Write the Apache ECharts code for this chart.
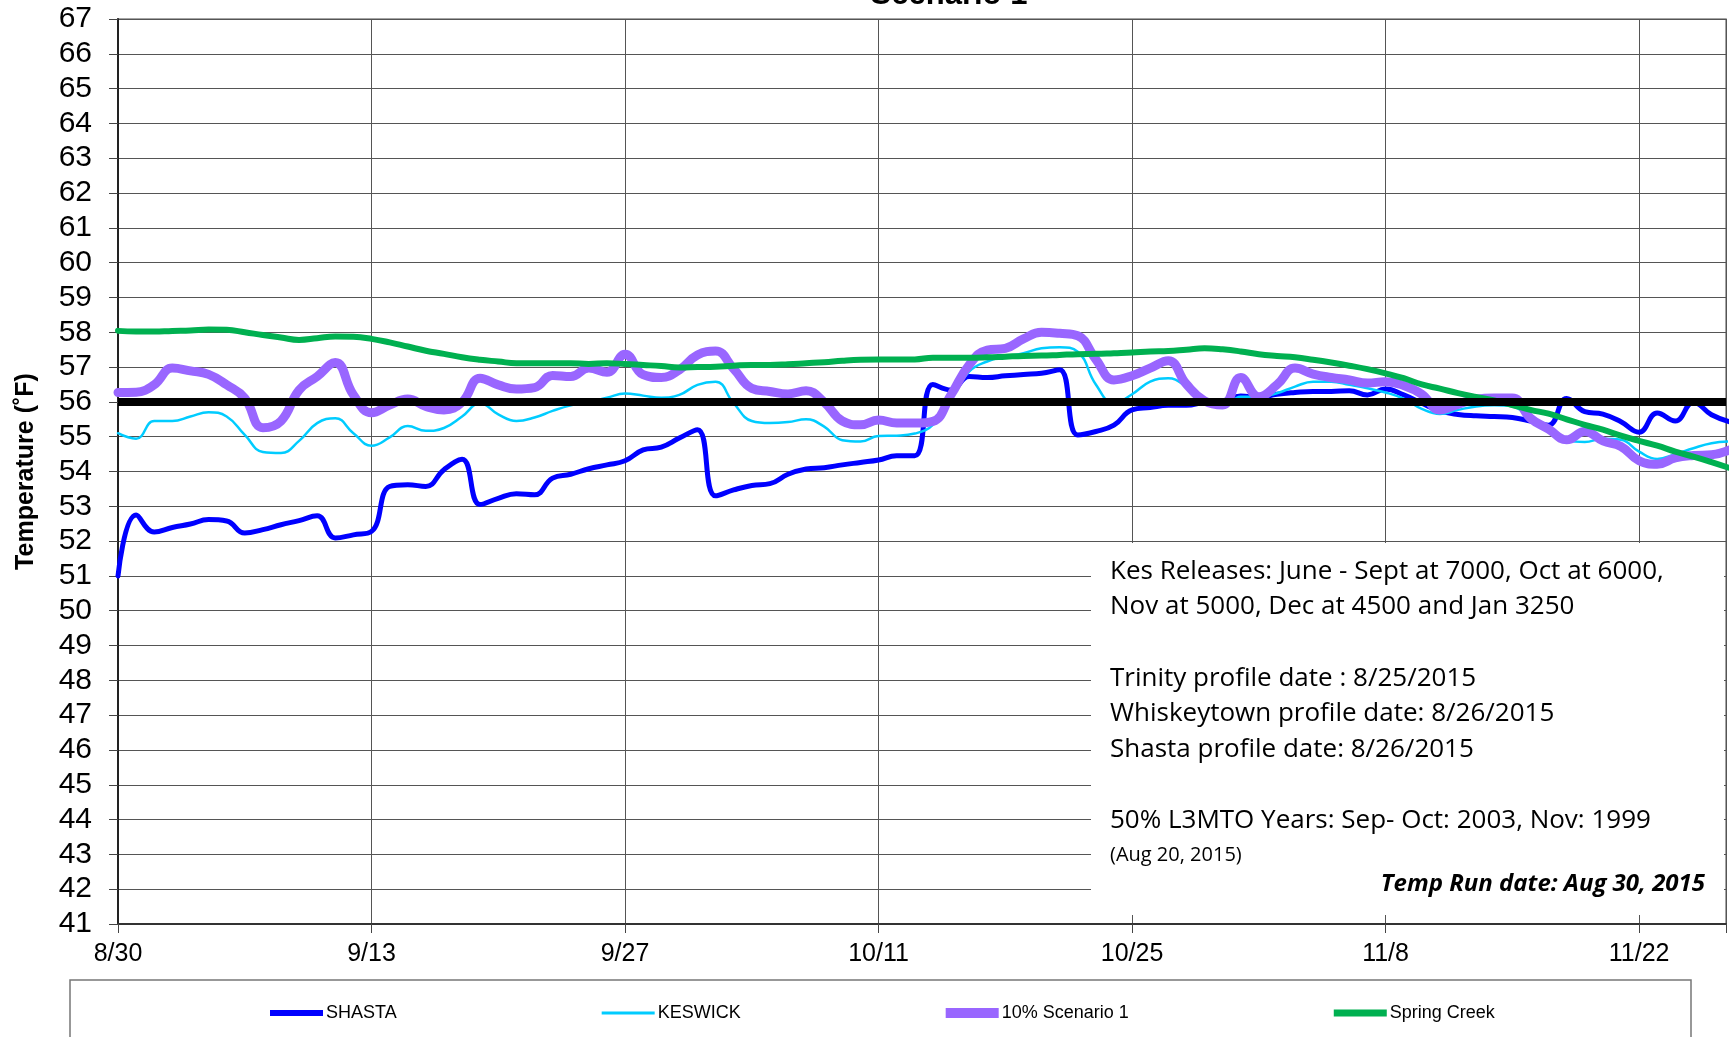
<!DOCTYPE html>
<html>
<head>
<meta charset="utf-8">
<script src="https://cdn.jsdelivr.net/npm/echarts@6/dist/echarts.min.js"></script>
<style>
  html, body { margin: 0; padding: 0; background: #fff; }
  #chart { width: 1729px; height: 1037px; }
</style>
</head>
<body>
<div id="chart"></div>
<script>
// daily temperatures (F), starting 8/30/2015
const xTickLabels = ['8/30', '9/13', '9/27', '10/11', '10/25', '11/8', '11/22'];

const shasta = [
  51.0, 52.75, 52.26, 52.39, 52.49, 52.62, 52.58, 52.23, 52.33, 52.47,
  52.59, 52.73, 52.09, 52.18, 52.28, 53.57, 53.62, 53.57, 54.05, 54.35,
  53.05, 53.23, 53.36, 53.33, 53.81, 53.92, 54.08, 54.19, 54.31, 54.62,
  54.70, 54.96, 55.2, 53.3, 53.47, 53.6, 53.65, 53.92, 54.07, 54.11,
  54.19, 54.26, 54.33, 54.45, 54.45, 56.5, 56.34, 56.73, 56.70, 56.75,
  56.79, 56.82, 56.92, 55.05, 55.15, 55.33, 55.77, 55.84, 55.9, 55.9,
  55.99, 56.03, 56.17, 56.13, 56.22, 56.27, 56.3, 56.3, 56.32, 56.2,
  56.37, 56.2, 55.96, 55.74, 55.64, 55.6, 55.58, 55.55, 55.45, 55.33,
  56.1, 55.72, 55.65, 55.43, 55.13, 55.68, 55.45, 55.99, 55.63, 55.43
];

const keswick = [
  55.1, 54.94, 55.45, 55.45, 55.58, 55.7, 55.58, 55.05, 54.56, 54.53,
  54.88, 55.39, 55.53, 55.1, 54.74, 54.98, 55.31, 55.17, 55.25, 55.58,
  55.96, 55.64, 55.45, 55.55, 55.74, 55.9, 56.0, 56.12, 56.24, 56.18,
  56.12, 56.2, 56.49, 56.58, 55.96, 55.45, 55.39, 55.42, 55.5, 55.29,
  54.9, 54.86, 55.02, 55.03, 55.09, 55.34, 56.1, 56.87, 57.16, 57.3,
  57.4, 57.54, 57.57, 57.44, 56.5, 55.96, 56.22, 56.58, 56.68, 56.44,
  56.06, 55.84, 56.15, 56.15, 56.25, 56.44, 56.58, 56.58, 56.49, 56.39,
  56.27, 56.09, 55.8, 55.65, 55.77, 55.87, 55.9, 55.87, 55.53, 55.2,
  54.88, 54.85, 54.94, 54.91, 54.57, 54.36, 54.5, 54.67, 54.81, 54.86
];

const scenario10 = [
  56.27, 56.28, 56.49, 56.97, 56.89, 56.79, 56.49, 56.11, 55.26, 55.45,
  56.34, 56.73, 57.13, 56.2, 55.69, 55.91, 56.08, 55.87, 55.77, 55.99,
  56.68, 56.49, 56.37, 56.41, 56.76, 56.73, 56.97, 56.85, 57.37, 56.78,
  56.7, 56.92, 57.35, 57.46, 56.95, 56.39, 56.3, 56.23, 56.32, 55.99,
  55.45, 55.34, 55.48, 55.39, 55.39, 55.44, 56.2, 57.06, 57.49, 57.54,
  57.81, 58.0, 57.97, 57.9, 57.22, 56.63, 56.75, 56.97, 57.18, 56.51,
  56.03, 55.91, 56.7, 56.15, 56.49, 56.97, 56.8, 56.7, 56.63, 56.54,
  56.58, 56.47, 56.22, 55.77, 55.93, 56.08, 56.11, 56.11, 55.53, 55.22,
  54.91, 55.15, 54.88, 54.72, 54.31, 54.21, 54.39, 54.46, 54.48, 54.62
];

const springCreek = [
  58.04, 58.02, 58.02, 58.04, 58.05, 58.08, 58.07, 58.0, 57.92, 57.85,
  57.78, 57.83, 57.88, 57.87, 57.81, 57.71, 57.59, 57.47, 57.38, 57.28,
  57.21, 57.16, 57.11, 57.11, 57.11, 57.11, 57.09, 57.11, 57.09, 57.06,
  57.03, 56.99, 57.0, 57.01, 57.04, 57.06, 57.06, 57.08, 57.11, 57.14,
  57.18, 57.21, 57.22, 57.22, 57.22, 57.27, 57.27, 57.27, 57.28, 57.3,
  57.32, 57.33, 57.35, 57.37, 57.38, 57.4, 57.42, 57.45, 57.46, 57.5,
  57.54, 57.51, 57.45, 57.37, 57.32, 57.28, 57.21, 57.13, 57.04, 56.94,
  56.82, 56.68, 56.5, 56.38, 56.25, 56.14, 56.04, 55.91, 55.77, 55.66,
  55.5, 55.34, 55.2, 55.03, 54.88, 54.74, 54.57, 54.43, 54.27, 54.1
];

const targetTemp = 56;

const noteLines = [
  'Kes Releases: June - Sept at 7000, Oct at 6000,',
  'Nov at 5000, Dec at 4500 and Jan 3250',
  'Trinity profile date : 8/25/2015',
  'Whiskeytown profile date: 8/26/2015',
  'Shasta profile date: 8/26/2015',
  '50% L3MTO Years: Sep- Oct: 2003, Nov: 1999'
];
const noteSmall = '(Aug 20, 2015)';
const runDate = 'Temp Run date: Aug 30, 2015';

const ARIAL = 'Arial, "Liberation Sans", sans-serif';
const CALIBRI = '"Open Sans", Lato, sans-serif';

const chart = echarts.init(document.getElementById('chart'));

const toPoints = arr => arr.map((v, i) => [i, v]);

const lineSeries = (name, data, color, width) => ({
  name: name,
  type: 'line',
  data: toPoints(data),
  smooth: 0.45,
  symbol: 'none',
  lineStyle: { color: color, width: width, cap: 'round', join: 'round' },
  itemStyle: { color: color },
  emphasis: { disabled: true },
});

const noteY = [572, 607, 679, 714, 750, 821];

const graphics = [
  // white note box that hides the grid lines
  { type: 'rect', z: 5, shape: { x: 1091, y: 543, width: 633, height: 372 }, style: { fill: '#fff' } },
  // legend frame
  { type: 'rect', z: 5, shape: { x: 70, y: 980, width: 1621, height: 80 }, style: { fill: 'none', stroke: '#777', lineWidth: 1.5 } },
  // title (cut off at the top)
  {
    type: 'text', z: 6, x: 949, y: -5,
    style: { text: 'Scenario 1', font: 'bold 31px ' + ARIAL, fill: '#000', textAlign: 'center', textVerticalAlign: 'middle' }
  },
];

noteLines.forEach((t, i) => {
  graphics.push({
    type: 'text', z: 6, x: 1110, y: noteY[i],
    style: { text: t, font: '26px ' + CALIBRI, fill: '#000', textAlign: 'left', textVerticalAlign: 'middle' }
  });
});
graphics.push({
  type: 'text', z: 6, x: 1110, y: 855,
  style: { text: noteSmall, font: '20px ' + CALIBRI, fill: '#000', textAlign: 'left', textVerticalAlign: 'middle' }
});
graphics.push({
  type: 'text', z: 6, x: 1705, y: 884,
  style: { text: runDate, font: 'italic bold 24px ' + CALIBRI, fill: '#000', textAlign: 'right', textVerticalAlign: 'middle' }
});

const option = {
  animation: false,
  backgroundColor: '#fff',
  grid: {
    left: 118,
    right: 3,
    top: 19,
    bottom: 113,
    show: true,
    borderColor: '#888',
    borderWidth: 1.5,
    outerBoundsMode: 'none',
  },
  xAxis: {
    type: 'value',
    min: 0,
    max: 88.8,
    interval: 14,
    axisLine: { show: true, lineStyle: { color: '#333', width: 2 } },
    axisTick: { show: true, length: 9, lineStyle: { color: '#444' } },
    axisLabel: {
      color: '#000',
      fontFamily: ARIAL,
      fontSize: 25,
      margin: 18,
      formatter: function (v) {
        const idx = v / 14;
        return Number.isInteger(idx) && xTickLabels[idx] ? xTickLabels[idx] : '';
      },
    },
    splitLine: { show: true, lineStyle: { color: '#555', width: 1 } },
  },
  yAxis: {
    type: 'value',
    min: 41,
    max: 67,
    interval: 1,
    name: 'Temperature (˚F)',
    nameLocation: 'middle',
    nameGap: 79,
    nameTextStyle: { color: '#000', fontFamily: ARIAL, fontSize: 25, fontWeight: 'bold' },
    axisLine: { show: true, lineStyle: { color: '#222', width: 2 } },
    axisTick: { show: true, length: 9, lineStyle: { color: '#444' } },
    axisLabel: { color: '#000', fontFamily: ARIAL, fontSize: 30, margin: 26 },
    splitLine: { show: true, lineStyle: { color: '#555', width: 1 } },
  },
  legend: {
    left: 265,
    top: 999,
    itemGap: 205,
    itemWidth: 53,
    itemHeight: 14,
    itemStyle: { borderWidth: 0 },
    textStyle: { color: '#000', fontFamily: ARIAL, fontSize: 18, padding: [0, 0, 0, -2] },
    data: [
      { name: 'SHASTA', icon: 'path://M0,0H53V6H0Z' },
      { name: 'KESWICK', icon: 'path://M0,0H53V3H0Z' },
      { name: '10% Scenario 1', icon: 'path://M0,0H53V10H0Z' },
      { name: 'Spring Creek', icon: 'path://M0,0H53V7H0Z' },
    ],
  },
  series: [
    lineSeries('SHASTA', shasta, '#0000FF', 5),
    lineSeries('KESWICK', keswick, '#00CCFF', 2.5),
    lineSeries('10% Scenario 1', scenario10, '#9966FF', 9),
    Object.assign(lineSeries('Spring Creek', springCreek, '#00B050', 6), {
      markLine: {
        silent: true,
        symbol: ['none', 'none'],
        label: { show: false },
        lineStyle: { color: '#000', width: 8, type: 'solid' },
        emphasis: { disabled: true },
        data: [{ yAxis: targetTemp }],
      },
    }),
  ],
  graphic: { elements: graphics },
};

chart.setOption(option);
</script>
</body>
</html>
